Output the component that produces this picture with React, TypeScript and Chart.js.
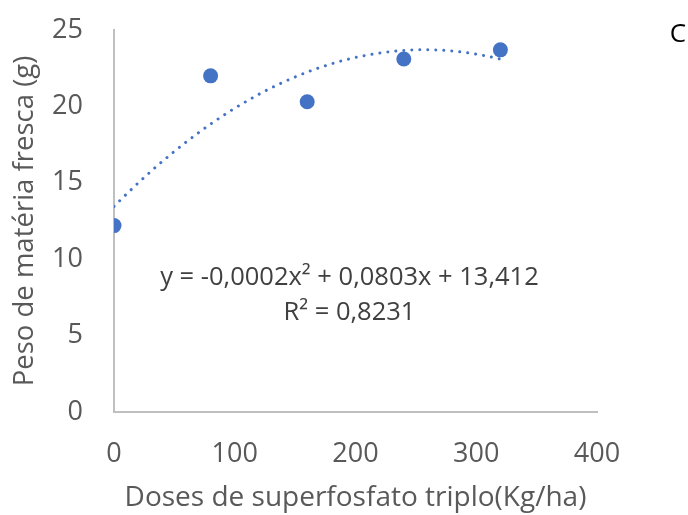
import React, { useEffect, useRef } from "react";
import { Chart, registerables } from "chart.js";

Chart.register(...registerables);

const doses = [0, 80, 160, 240, 320];
const peso = [12.2, 22.0, 20.3, 23.1, 23.7];
const xTicks = [0, 100, 200, 300, 400];
const yTicks = [0, 5, 10, 15, 20, 25];
const equationText = "y = -0,0002x² + 0,0803x + 13,412";
const r2Text = "R² = 0,8231";
const panelLabel = "C";

// quadratic least squares fit (Excel-style polynomial trendline of order 2)
function quadFit(xs: number[], ys: number[]) {
  const n = xs.length;
  let s = [0, 0, 0, 0, 0];
  let t = [0, 0, 0];
  for (let i = 0; i < n; i++) {
    const x = xs[i];
    for (let k = 0; k <= 4; k++) s[k] += Math.pow(x, k);
    for (let k = 0; k <= 2; k++) t[k] += ys[i] * Math.pow(x, k);
  }
  const A = [
    [s[0], s[1], s[2], t[0]],
    [s[1], s[2], s[3], t[1]],
    [s[2], s[3], s[4], t[2]],
  ];
  for (let i = 0; i < 3; i++) {
    let p = i;
    for (let r = i + 1; r < 3; r++) if (Math.abs(A[r][i]) > Math.abs(A[p][i])) p = r;
    [A[i], A[p]] = [A[p], A[i]];
    for (let r = 0; r < 3; r++) {
      if (r === i) continue;
      const f = A[r][i] / A[i][i];
      for (let c = i; c < 4; c++) A[r][c] -= f * A[i][c];
    }
  }
  return [A[0][3] / A[0][0], A[1][3] / A[1][1], A[2][3] / A[2][2]];
}

export default function App() {
  const ref = useRef<HTMLCanvasElement>(null);
  useEffect(() => {
    const [c0, c1, c2] = quadFit(doses, peso);
    const trend: { x: number; y: number }[] = [];
    const xMax = doses[doses.length - 1];
    for (let i = 0; i <= 80; i++) {
      const x = (xMax * i) / 80;
      trend.push({ x, y: c0 + c1 * x + c2 * x * x });
    }
    const font = "'Open Sans', sans-serif";
    const textPlugin = {
      id: "texts",
      afterDraw(chart: any) {
        const { ctx, chartArea, scales } = chart;
        ctx.save();
        ctx.fillStyle = "#404040";
        ctx.font = `25.5px ${font}`;
        ctx.textAlign = "center";
        ctx.textBaseline = "middle";
        const cx = scales.x.getPixelForValue(195);
        ctx.fillText(equationText, cx, scales.y.getPixelForValue(8.8));
        ctx.fillText(r2Text, cx, scales.y.getPixelForValue(6.5));
        ctx.fillStyle = "#000000";
        ctx.font = `26px ${font}`;
        ctx.fillText(panelLabel, 678, chartArea.top + 5);
        ctx.restore();
      },
    };
    const zeroPad = (s: any) => {
      s.paddingTop = 0;
      s.paddingBottom = 0;
      s.paddingLeft = 0;
      s.paddingRight = 0;
    };
    const chart = new Chart(ref.current!, {
      type: "scatter",
      data: {
        datasets: [
          {
            type: "line",
            data: trend,
            borderColor: "#4472C4",
            borderWidth: 3,
            borderDash: [0.01, 8],
            borderCapStyle: "round",
            pointRadius: 0,
            fill: false,
            tension: 0,
          } as any,
          {
            data: doses.map((x, i) => ({ x, y: peso[i] })),
            backgroundColor: "#4472C4",
            borderColor: "#4472C4",
            pointRadius: 7.5,
            pointBorderWidth: 0,
          },
        ],
      },
      options: {
        animation: false,
        responsive: false,
        layout: { padding: { top: 30, right: 91, left: 0, bottom: 0 } },
        plugins: { legend: { display: false }, tooltip: { enabled: false } },
        scales: {
          x: {
            type: "linear",
            min: 0,
            max: 400,
            afterBuildTicks: (s: any) => {
              s.ticks = xTicks.map((v) => ({ value: v }));
            },
            afterFit: (s: any) => {
              s.height = 103;
              zeroPad(s);
            },
            grid: { display: false, drawTicks: false },
            border: { display: true, color: "#bfbfbf", width: 2 },
            ticks: {
              padding: 26,
              color: "#595959",
              font: { family: "'Open Sans', sans-serif", size: 27 },
              maxRotation: 0,
            },
            title: {
              display: true,
              text: "Doses de superfosfato triplo(Kg/ha)",
              color: "#595959",
              font: { family: "'Open Sans', sans-serif", size: 28 },
              padding: { top: 2, bottom: 0 },
            },
          },
          y: {
            type: "linear",
            min: 0,
            max: 25,
            afterBuildTicks: (s: any) => {
              s.ticks = yTicks.map((v) => ({ value: v }));
            },
            afterFit: (s: any) => {
              s.width = 114;
              zeroPad(s);
            },
            grid: { display: false, drawTicks: false },
            border: { display: true, color: "#bfbfbf", width: 2 },
            ticks: {
              padding: 31,
              color: "#595959",
              font: { family: "'Open Sans', sans-serif", size: 27 },
            },
            title: {
              display: true,
              text: "Peso de matéria fresca (g)",
              color: "#595959",
              font: { family: "'Open Sans', sans-serif", size: 27.5 },
              padding: { top: 9, bottom: 0 },
            },
          },
        },
      },
      plugins: [textPlugin],
    });
    return () => chart.destroy();
  }, []);
  return (
    <div style={{ position: "fixed", left: 0, top: 0, width: 688, height: 515, background: "#fff" }}>
      <canvas ref={ref} width={688} height={515} style={{ width: 688, height: 515 }} />
    </div>
  );
}
